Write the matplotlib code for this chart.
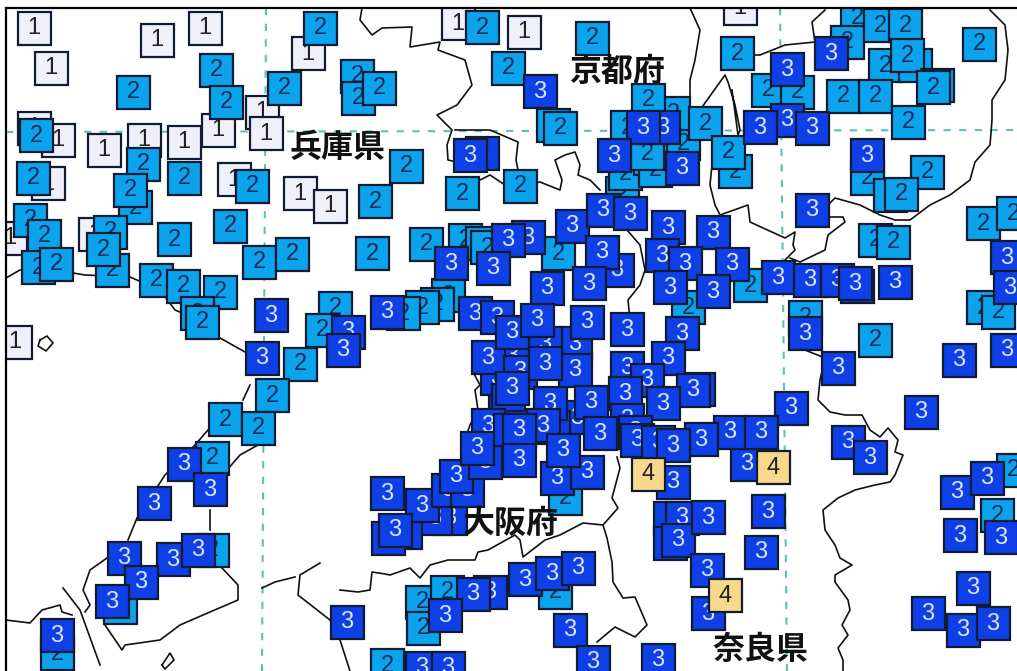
import matplotlib
matplotlib.use('Agg')
import matplotlib.pyplot as plt
from matplotlib.patches import Rectangle

W, H = 1017, 671

# station positions by intensity, back to front
level1_x = [34, 157, 205, 51, 308, 34, 58, 104, 144, 184, 218, 262, 266, 48, 234, 300, 330, 95, 10, 15, 458, 524, 740]
level1_y = [28, 40, 28, 68, 53, 128, 140, 150, 140, 142, 130, 112, 133, 183, 179, 193, 206, 234, 238, 342, 23, 32, 8]

level2_x = [320, 216, 226, 284, 133, 36, 33, 143, 135, 130, 184, 252, 30, 44, 110, 112, 103, 38, 56, 174, 230, 259, 292,
            156, 183, 220, 197, 202, 357, 358, 379, 406, 375, 462, 520, 482, 508, 592, 553, 560, 372, 426,
            465, 482, 487, 558, 448, 437, 422, 403, 335, 322,
            622, 625, 650, 655, 660, 647, 683, 673, 627, 648, 705, 737, 857, 847, 880, 905,
            885, 915, 907, 937, 933, 843, 875, 908, 979, 768, 797, 735, 728, 867, 927, 890, 901, 875, 893, 983, 1013,
            750, 805, 875, 983, 998, 688, 300, 272, 225, 258, 212, 212, 120, 57, 565, 422, 423, 447, 555, 387,
            997, 1013]
level2_y = [28, 70, 102, 88, 92, 135, 178, 164, 207, 190, 178, 186, 220, 236, 232, 270, 249, 267, 264, 239, 226, 262, 254,
            280, 286, 292, 313, 322, 76, 98, 88, 166, 201, 193, 186, 27, 68, 38, 125, 128, 253, 244,
            240, 243, 247, 253, 295, 304, 307, 313, 308, 330,
            193, 173, 158, 170, 147, 153, 143, 113, 127, 100, 123, 53, 17, 42, 25, 25,
            65, 65, 55, 85, 87, 96, 96, 122, 44, 90, 92, 171, 152, 178, 172, 195, 194, 240, 242, 223, 213,
            285, 317, 340, 307, 312, 307, 364, 395, 419, 428, 458, 550, 607, 653, 498, 602, 628, 592, 592, 665,
            515, 470]

level3_x = [482, 470, 540, 663, 643, 614, 682, 787, 831, 787, 760, 812, 867, 812, 451, 528, 508, 493, 572, 603, 630, 668,
            713, 617, 662, 602, 685, 732, 670, 589, 547, 713, 778, 810, 837, 857, 855, 895, 1007, 1010, 271, 387, 348, 343,
            805, 791, 838, 959, 921, 1007, 848, 870, 747, 730, 761, 701, 698, 957, 987, 960, 1001, 973, 928, 963, 993,
            262, 184, 210, 154, 124, 173, 198, 141, 112, 57]
level3_y = [153, 155, 91, 127, 127, 155, 168, 69, 53, 120, 127, 128, 155, 210, 263, 237, 240, 268, 226, 210, 213, 227,
            232, 270, 255, 252, 263, 264, 287, 283, 288, 291, 277, 280, 280, 286, 283, 282, 257, 287, 315, 312, 332, 350,
            333, 408, 368, 360, 412, 350, 442, 457, 464, 432, 432, 439, 389, 492, 478, 535, 537, 588, 613, 630, 623,
            358, 464, 489, 503, 558, 559, 550, 582, 601, 635]

# the dense Osaka group, drawn over the rest
cluster_x = [497, 505, 475, 575, 545, 512, 488, 497, 512, 537, 587, 627, 682, 575, 520, 545, 668, 627, 693, 647, 625, 663,
             508, 512, 577, 518, 553, 627, 635, 550, 591, 600]
cluster_y = [378, 412, 313, 343, 343, 355, 357, 317, 332, 320, 322, 329, 333, 370, 372, 363, 358, 368, 390, 380, 393, 403,
             400, 388, 417, 427, 427, 420, 432, 403, 402, 433]

south_x = [488, 543, 510, 450, 435, 405, 388, 387, 422, 395, 448, 467, 456, 485, 477, 519, 519, 557, 587, 563, 637, 658,
           673, 673, 670, 670, 682, 678, 708, 768, 761, 707, 708, 525, 552, 578, 490, 473, 445, 347, 570, 593, 658, 422, 448]
south_y = [425, 425, 430, 518, 518, 532, 538, 493, 505, 530, 490, 490, 476, 462, 448, 430, 460, 478, 472, 450, 440, 442,
           445, 482, 518, 543, 518, 540, 517, 511, 552, 570, 613, 579, 573, 568, 592, 594, 615, 622, 630, 662, 660, 668, 668]

level4_x = [648, 773, 725]
level4_y = [474, 467, 595]

# coast and prefecture borders, pixels of the map image
borders = [
    [(362, 8), (360, 20), (372, 35), (382, 28), (412, 27), (410, 47), (440, 42), (438, 50), (465, 60), (470, 78),
     (472, 85), (457, 105), (437, 115), (452, 130), (447, 145), (448, 160), (470, 165)],
    [(455, 130), (462, 130), (490, 130), (518, 142), (516, 160), (518, 170), (515, 178)],
    [(480, 180), (490, 175), (505, 185), (540, 182), (560, 190), (562, 180), (555, 160), (565, 155), (575, 152),
     (580, 165), (578, 175), (590, 180), (600, 190)],
    [(690, 8), (700, 30), (695, 60), (690, 80), (690, 110)],
    [(740, 55), (760, 55), (785, 45), (815, 42), (812, 22), (825, 10)],
    [(700, 110), (725, 75), (728, 82), (735, 105), (740, 130), (738, 135), (732, 90)],
    [(990, 10), (1005, 25), (1008, 50), (1005, 80), (992, 100), (992, 120), (990, 145), (975, 162), (970, 180),
     (950, 195), (930, 205), (910, 220), (895, 220), (880, 215), (860, 205), (835, 198), (828, 205), (828, 217),
     (843, 217), (845, 222), (828, 235), (825, 250), (800, 262), (790, 258)],
    [(712, 165), (710, 185), (715, 205), (720, 215), (748, 205), (750, 222), (785, 238), (795, 232), (793, 245),
     (795, 250), (785, 260)],
    [(627, 230), (640, 245), (645, 270), (640, 285), (628, 300), (630, 320)],
    [(805, 350), (825, 358), (820, 380), (818, 400), (830, 412), (845, 415), (862, 415), (870, 430), (880, 437),
     (888, 428), (898, 440), (895, 452), (903, 455), (895, 475), (890, 482), (875, 485), (855, 490), (838, 498),
     (823, 510), (825, 530), (835, 545), (840, 558), (852, 565), (835, 575), (835, 582), (848, 600), (850, 610),
     (842, 625), (848, 635), (838, 648), (843, 660), (843, 671)],
    [(340, 590), (358, 592), (370, 590), (372, 572), (385, 574), (390, 575), (410, 568), (420, 578), (430, 565),
     (448, 560), (475, 560), (478, 552), (488, 550), (515, 535), (520, 540), (523, 557), (545, 540), (560, 535),
     (583, 523), (603, 525), (607, 538), (612, 562), (613, 582), (623, 598), (635, 597), (647, 625), (635, 637),
     (615, 627), (597, 642)],
    [(603, 525), (618, 508), (612, 498), (620, 468), (617, 457)],
    [(472, 370), (480, 385), (475, 390), (478, 410), (470, 425), (465, 440)],
    [(6, 278), (20, 270), (55, 270), (85, 275), (130, 277), (160, 290), (175, 310), (200, 320)],
    [(220, 338), (245, 352)],
    [(250, 385), (243, 400)],
    [(208, 430), (195, 445), (165, 475), (137, 518), (128, 540)],
    [(227, 470), (240, 455), (258, 445)],
    [(210, 510), (210, 530)],
    [(222, 568), (238, 585), (238, 600), (210, 612), (180, 625), (160, 640), (125, 645), (122, 650), (105, 625)],
    [(107, 558), (90, 570), (83, 590), (90, 605), (85, 612)],
    [(6, 620), (30, 623), (42, 610), (60, 605), (62, 612), (72, 615)],
    [(63, 588), (80, 610), (100, 665)],
    [(262, 588), (275, 582), (295, 577)],
    [(320, 563), (300, 575), (298, 595), (330, 620), (340, 640), (350, 671)],
    [(40, 340), (47, 336), (53, 343), (46, 351), (38, 346), (40, 340)],
    [(162, 665), (170, 653), (174, 660), (165, 669), (162, 665)],
]

# lat/lon grid
grid_lines = [[(266, 8), (262, 671)], [(780, 8), (787, 671)], [(6, 132), (1017, 130)]]

pref_names = ['兵庫県', '京都府', '大阪府', '奈良県']
pref_x = [338, 617, 511, 761]
pref_y = [148, 72, 524, 650]

box_colors = {1: '#f0f0fa', 2: '#0ba4ec', 3: '#0f3fe6', 4: '#f8d98c'}
digit_colors = {1: '#222222', 2: '#0c2c5c', 3: '#d8e6ff', 4: '#222222'}
BOX = 33

fig = plt.figure(figsize=(W / 100, H / 100), dpi=100)
ax = fig.add_axes([6 / W, 0, (W - 6) / W, (H - 8) / H])
ax.set_xlim(6, W)
ax.set_ylim(H, 8)
ax.set_xticks([])
ax.set_yticks([])
for side in ['right', 'bottom']:
    ax.spines[side].set_visible(False)
for side in ['left', 'top']:
    ax.spines[side].set_linewidth(1.6)
    ax.spines[side].set_zorder(50000)

for line in grid_lines:
    ax.plot([p[0] for p in line], [p[1] for p in line], color='#5cc0b8', lw=1.5, ls=(0, (3.5, 4)), zorder=1)
for line in borders:
    ax.plot([p[0] for p in line], [p[1] for p in line], color='#111111', lw=1.2, zorder=2)


def draw_boxes(xs, ys, level, z):
    for x, y in zip(xs, ys):
        ax.add_patch(Rectangle((x - BOX / 2, y - BOX / 2), BOX, BOX, facecolor=box_colors[level],
                               edgecolor='#101c33', lw=1.6, zorder=z))
        ax.text(x, y + 0.5, str(level), color=digit_colors[level], fontsize=17, family='Liberation Sans',
                ha='center', va='center', clip_on=True, zorder=z)
        z += 1
    return z


z = 10
z = draw_boxes(level1_x, level1_y, 1, z)
z = draw_boxes(level2_x, level2_y, 2, z)
z = draw_boxes(level3_x, level3_y, 3, z)
z = draw_boxes(cluster_x, cluster_y, 3, z)
z = draw_boxes(south_x, south_y, 3, z)
z = draw_boxes(level4_x, level4_y, 4, z)

for name, x, y in zip(pref_names, pref_x, pref_y):
    ax.text(x, y, name, fontsize=23, fontweight='bold', color='#111111',
            family=['Noto Sans CJK JP', 'DejaVu Sans'], ha='center', va='center', zorder=z + 1)

fig.savefig('out.png', dpi=100)
